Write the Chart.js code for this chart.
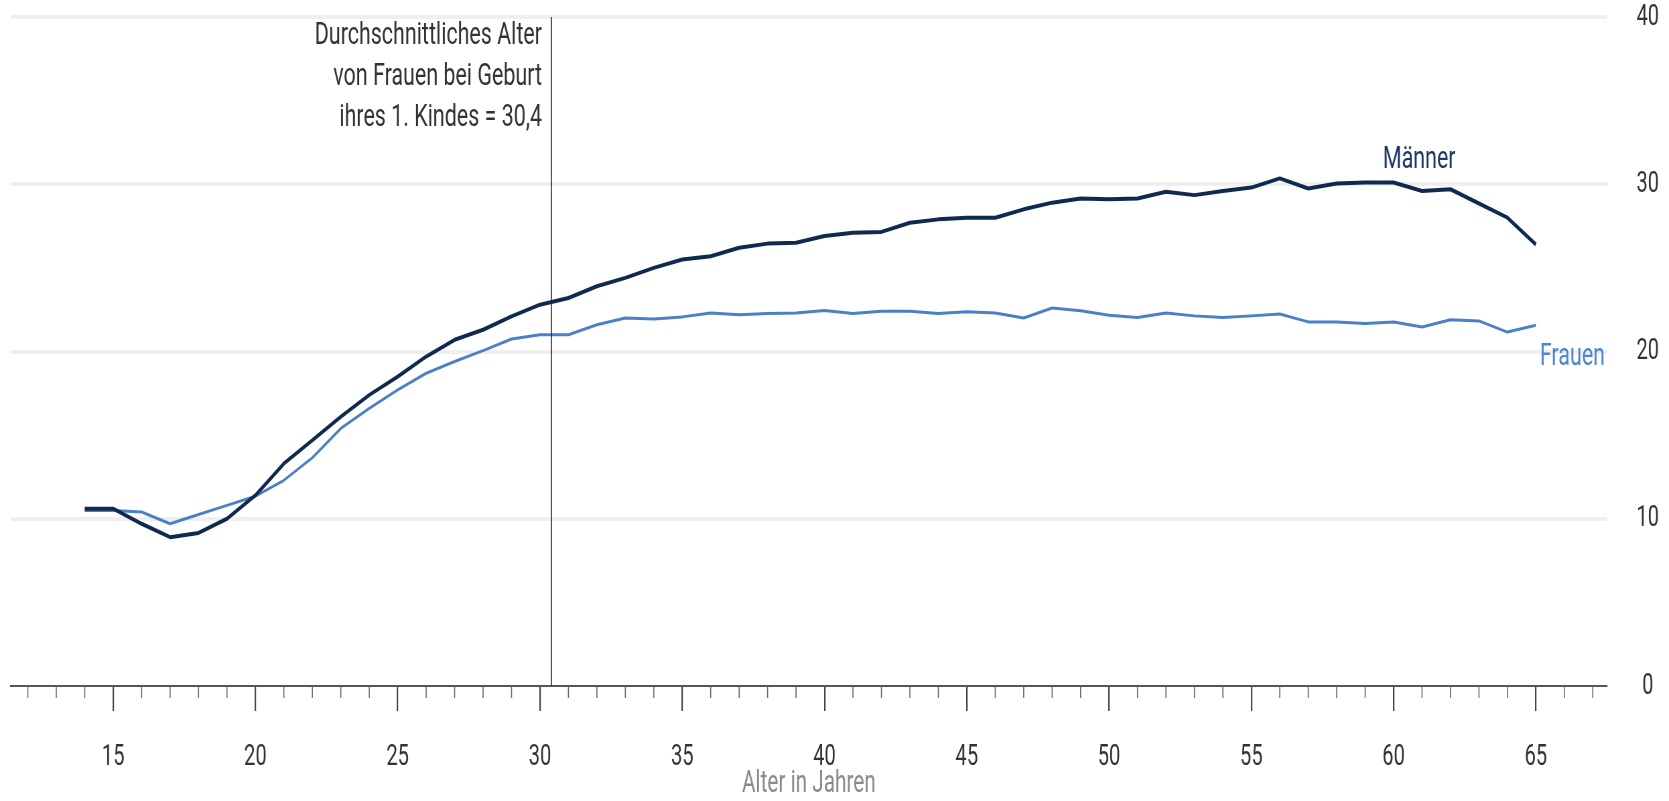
<!DOCTYPE html>
<html><head><meta charset="utf-8">
<script src="https://cdn.jsdelivr.net/npm/chart.js@4.4.1/dist/chart.umd.min.js"></script>
<style>
html,body{margin:0;padding:0;background:#fff;overflow:hidden;}
#wrap{width:1669px;height:801px;overflow:hidden;position:relative;background:#fff;}
#c{position:absolute;left:0;top:0;width:2491px;height:801px;transform:scaleX(0.67);transform-origin:0 0;}
</style></head><body>
<div id="wrap"><canvas id="c" width="2491" height="801"></canvas></div>
<script>
// ---- data ----
const ages = [14,15,16,17,18,19,20,21,22,23,24,25,26,27,28,29,30,31,32,33,34,35,36,37,38,39,40,41,42,43,44,45,46,47,48,49,50,51,52,53,54,55,56,57,58,59,60,61,62,63,64,65];
const maenner = [10.6,10.6,9.7,8.9,9.15,10.0,11.4,13.3,14.7,16.1,17.4,18.5,19.7,20.7,21.3,22.1,22.8,23.2,23.9,24.4,25.0,25.5,25.7,26.2,26.45,26.5,26.9,27.1,27.15,27.7,27.9,28.0,28.0,28.5,28.9,29.15,29.1,29.15,29.55,29.35,29.6,29.8,30.35,29.75,30.05,30.1,30.1,29.6,29.7,28.85,28.0,26.4];
const frauen = [10.5,10.5,10.4,9.7,10.25,10.8,11.35,12.3,13.65,15.4,16.6,17.7,18.7,19.4,20.05,20.75,21.0,21.0,21.6,22.0,21.95,22.07,22.3,22.2,22.27,22.3,22.45,22.27,22.4,22.4,22.27,22.37,22.3,22.0,22.6,22.44,22.17,22.03,22.3,22.13,22.03,22.13,22.24,21.77,21.77,21.67,21.77,21.46,21.9,21.83,21.16,21.57];
const xMajorTicks = [15,20,25,30,35,40,45,50,55,60,65];
const xMinorTicks = [12,13,14,15,16,17,18,19,20,21,22,23,24,25,26,27,28,29,30,31,32,33,34,35,36,37,38,39,40,41,42,43,44,45,46,47,48,49,50,51,52,53,54,55,56,57,58,59,60,61,62,63,64,65,66,67];
const yTicks = [0,10,20,30,40];
const avgFirstBirthAge = 30.4;
const annotationLines = ['Durchschnittliches Alter','von Frauen bei Geburt','ihres 1. Kindes = 30,4'];
const seriesNames = ['Männer','Frauen'];
const xTitle = 'Alter in Jahren';

Chart.defaults.font.family = 'Roboto, "Noto Sans", sans-serif';

const extras = {
  id: 'extras',
  afterDatasetsDraw(chart) {
    const ctx = chart.ctx, xs = chart.scales.x, ys = chart.scales.y, ca = chart.chartArea;
    ctx.save();
    // minor ticks on the x axis
    ctx.strokeStyle = '#666';
    ctx.lineWidth = 1.6;
    xMinorTicks.forEach(v => {
      if (xMajorTicks.includes(v)) return;
      const px = xs.getPixelForValue(v);
      ctx.beginPath(); ctx.moveTo(px, xs.top); ctx.lineTo(px, xs.top + 12); ctx.stroke();
    });
    // reference line: average age of women at first birth
    const lx = xs.getPixelForValue(avgFirstBirthAge);
    ctx.strokeStyle = '#222';
    ctx.lineWidth = 1.6;
    ctx.beginPath(); ctx.moveTo(lx, ys.getPixelForValue(40)); ctx.lineTo(lx, ys.getPixelForValue(0)); ctx.stroke();
    ctx.font = '32px Roboto, "Noto Sans", sans-serif';
    ctx.fillStyle = '#333';
    ctx.textAlign = 'right';
    ctx.textBaseline = 'alphabetic';
    annotationLines.forEach((t, i) => ctx.fillText(t, lx - 14, ca.top + 26.5 + i * 41));
    // series labels
    ctx.fillStyle = '#1d3864';
    ctx.textAlign = 'center';
    ctx.fillText(seriesNames[0], xs.getPixelForValue(60.9), ys.getPixelForValue(31.0));
    ctx.fillStyle = '#4d86cc';
    ctx.textAlign = 'right';
    ctx.fillText(seriesNames[1], xs.getPixelForValue(67.43), ys.getPixelForValue(19.2));
    ctx.restore();
  }
};

new Chart(document.getElementById('c'), {
  type: 'line',
  data: {
    datasets: [
      { label: seriesNames[0], data: ages.map((a, i) => ({x: a, y: maenner[i]})), borderColor: '#10294f', borderWidth: 4, pointRadius: 0, tension: 0, borderJoinStyle: 'round' },
      { label: seriesNames[1], data: ages.map((a, i) => ({x: a, y: frauen[i]})), borderColor: '#4a80c6', borderWidth: 3, pointRadius: 0, tension: 0, borderJoinStyle: 'round' }
    ]
  },
  options: {
    responsive: false, devicePixelRatio: 1, animation: false,
    layout: { padding: { left: 16, top: 17, right: 0, bottom: 0 } },
    plugins: { legend: { display: false }, tooltip: { enabled: false } },
    scales: {
      x: {
        type: 'linear', min: 11.4, max: 67.5, position: 'bottom',
        afterBuildTicks: s => { s.ticks = xMajorTicks.map(v => ({value: v})); },
        afterFit: s => { s.height = 115; },
        grid: { drawOnChartArea: false, drawTicks: true, tickLength: 25, tickColor: '#444', tickWidth: 2.2, lineWidth: 2.2 },
        border: { display: true, color: '#555', width: 2 },
        ticks: { padding: 28, color: '#333', font: { size: 30 }, maxRotation: 0, autoSkip: false, callback: v => String(v) },
        title: { display: true, text: xTitle, color: '#8a8a8a', font: { size: 31, lineHeight: 1.1 }, padding: { top: 0, bottom: 0 } }
      },
      y: {
        position: 'right', min: 0, max: 40,
        afterBuildTicks: s => { s.ticks = yTicks.map(v => ({value: v})); },
        afterFit: s => { s.width = 92.5; },
        grid: { color: c => (c.tick && c.tick.value === 0) ? 'rgba(0,0,0,0)' : '#efefef', lineWidth: 4, drawTicks: true, tickLength: 42, tickColor: 'rgba(0,0,0,0)' },
        border: { display: false },
        ticks: { crossAlign: 'center', padding: 2, color: '#333', font: { size: 30, lineHeight: 1 }, callback: v => String(v) }
      }
    }
  },
  plugins: [extras]
});
</script>
</body></html>
